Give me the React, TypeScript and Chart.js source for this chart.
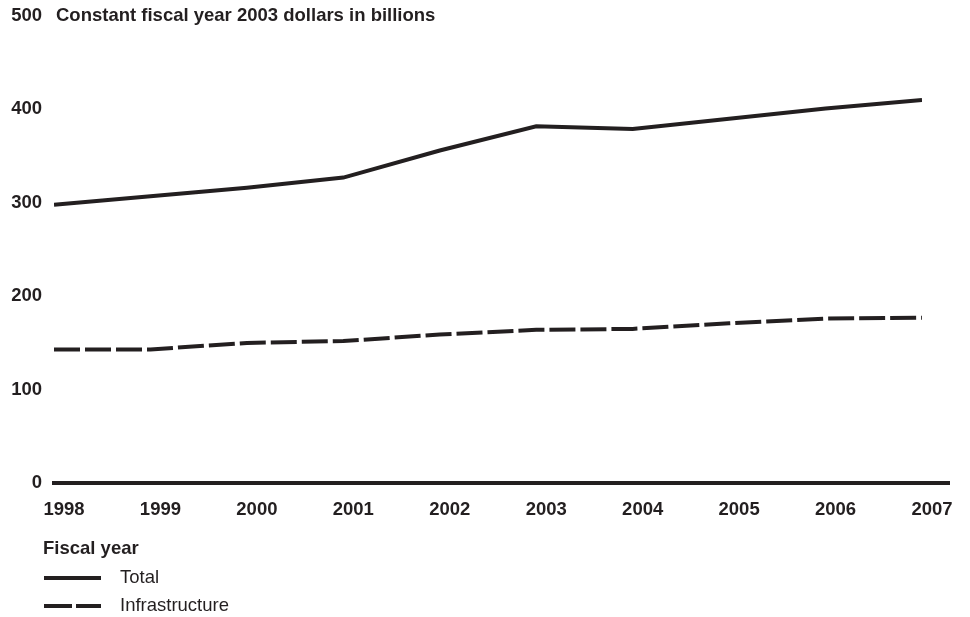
import React, { useEffect, useRef } from "react";
import { Chart, registerables } from "chart.js";

Chart.register(...registerables);

const years = [1998, 1999, 2000, 2001, 2002, 2003, 2004, 2005, 2006, 2007];
const totalValues = [298, 307, 316, 327, 356, 382, 379, 390, 401, 410];
const infraValues = [143, 143, 150, 152, 159, 164, 165, 171, 176, 177];
const yTicks = [0, 100, 200, 300, 400, 500];
const yTitle = "Constant fiscal year 2003 dollars in billions";
const xTitle = "Fiscal year";
const seriesNames = ["Total", "Infrastructure"];

const INK = "#231f20";
const FONT = "'Liberation Sans', Arial, Helvetica, sans-serif";
const FS = 18.5;

export default function App() {
  const ref = useRef<HTMLCanvasElement | null>(null);

  useEffect(() => {
    const canvas = ref.current;
    if (!canvas) return;

    const overlay = {
      id: "overlay",
      afterDraw(chart: any) {
        const ctx = chart.ctx;
        const y = chart.scales.y;
        const ca = chart.chartArea;
        ctx.save();
        const y0 = y.getPixelForValue(0);
        ctx.strokeStyle = INK;
        ctx.lineWidth = 4;
        ctx.beginPath();
        ctx.moveTo(ca.left - 2, y0);
        ctx.lineTo(ca.right + 28, y0);
        ctx.stroke();
        ctx.fillStyle = INK;
        ctx.font = `bold ${FS}px ${FONT}`;
        ctx.textAlign = "left";
        ctx.textBaseline = "middle";
        ctx.fillText(yTitle, ca.left + 2, y.getPixelForValue(500));
        ctx.fillText(xTitle, 43, 549);
        const ds = chart.data.datasets;
        const rows = [578, 606];
        ds.forEach((d: any, i: number) => {
          ctx.beginPath();
          ctx.lineWidth = 4;
          ctx.strokeStyle = d.borderColor;
          ctx.setLineDash(d.borderDash && d.borderDash.length ? [28, 4] : []);
          ctx.moveTo(44, rows[i]);
          ctx.lineTo(101, rows[i]);
          ctx.stroke();
          ctx.setLineDash([]);
          ctx.font = `${FS}px ${FONT}`;
          ctx.fillStyle = INK;
          ctx.fillText(d.label, 120, rows[i]);
        });
        ctx.restore();
      },
    };

    const chart = new Chart(canvas, {
      type: "line",
      data: {
        labels: years,
        datasets: [
          {
            label: seriesNames[0],
            data: years.map((yr, i) => ({ x: yr, y: totalValues[i] })),
            borderColor: INK,
            borderWidth: 4,
            pointRadius: 0,
            tension: 0,
            fill: false,
          },
          {
            label: seriesNames[1],
            data: years.map((yr, i) => ({ x: yr, y: infraValues[i] })),
            borderColor: INK,
            borderWidth: 4,
            borderDash: [26, 5],
            pointRadius: 0,
            tension: 0,
            fill: false,
          },
        ],
      },
      options: {
        responsive: false,
        animation: false,
        layout: { padding: { left: 0, right: 48, top: 16, bottom: 94 } },
        plugins: {
          legend: { display: false },
          tooltip: { enabled: false },
          title: { display: false },
        },
        scales: {
          x: {
            type: "linear",
            min: 1998,
            max: 2007,
            grid: { display: false, drawTicks: false },
            border: { display: false },
            afterBuildTicks: (scale: any) => {
              scale.ticks = years.map((v) => ({ value: v }));
            },
            afterFit: (scale: any) => {
              scale.height = 40;
              scale.paddingLeft = 0;
              scale.paddingRight = 0;
            },
            ticks: {
              autoSkip: false,
              maxRotation: 0,
              labelOffset: 10,
              padding: 16,
              color: INK,
              font: { family: FONT, size: FS, weight: "bold" },
              callback: (v: any) => String(v),
            },
          },
          y: {
            min: 0,
            max: 500,
            grid: { display: false, drawTicks: false },
            border: { display: false },
            afterBuildTicks: (scale: any) => {
              scale.ticks = yTicks.map((v) => ({ value: v }));
            },
            afterFit: (scale: any) => {
              scale.width = 54;
              scale.paddingTop = 0;
              scale.paddingBottom = 0;
            },
            ticks: {
              padding: 12,
              color: INK,
              font: { family: FONT, size: FS, weight: "bold" },
              callback: (v: any) => String(v),
            },
          },
        },
      },
      plugins: [overlay],
    } as any);

    return () => chart.destroy();
  }, []);

  return (
    <div style={{ position: "absolute", left: 0, top: 0, width: 970, height: 617, background: "#fff" }}>
      <canvas ref={ref} width={970} height={617} style={{ width: 970, height: 617 }} />
    </div>
  );
}
